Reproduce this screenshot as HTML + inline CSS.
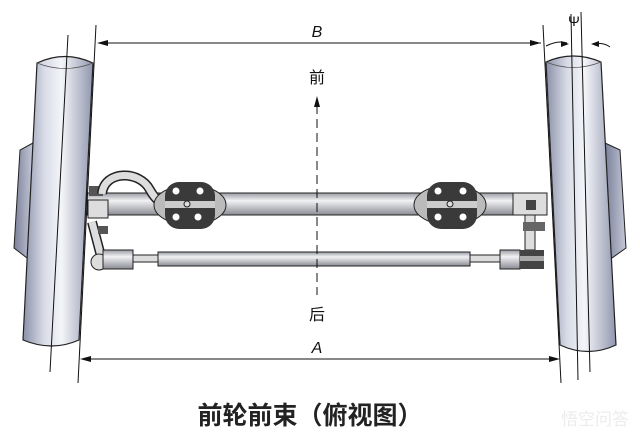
<!DOCTYPE html>
<html><head><meta charset="utf-8"><style>
html,body{margin:0;padding:0;background:#fff;}
svg{display:block;}
text{font-family:"Liberation Sans","Noto Sans CJK SC",sans-serif;fill:#111;}
</style></head><body>
<svg width="640" height="443" viewBox="0 0 640 443" xmlns="http://www.w3.org/2000/svg">
<defs>
<linearGradient id="wh" x1="0" x2="1" y1="0" y2="0">
<stop offset="0" stop-color="#8a90a8"/><stop offset="0.3" stop-color="#d8dbe6"/><stop offset="0.55" stop-color="#f4f5f9"/><stop offset="1" stop-color="#9096ae"/>
</linearGradient>
<linearGradient id="ax" x1="0" x2="0" y1="0" y2="1">
<stop offset="0" stop-color="#9a9ca4"/><stop offset="0.35" stop-color="#f2f2f4"/><stop offset="1" stop-color="#8a8c94"/>
</linearGradient>
<linearGradient id="hub" x1="0" x2="1"><stop offset="0" stop-color="#7a809a"/><stop offset="1" stop-color="#c4c8d6"/></linearGradient>
</defs>
<rect width="640" height="443" fill="#fff"/>
<polygon points="33,143 20,150 14,248 27,258 31,258" fill="url(#hub)" stroke="#222" stroke-width="1"/>
<polygon points="605,143 620,150 626,248 612,258 608,258" fill="url(#hub)" stroke="#222" stroke-width="1"/>
<path d="M37,63 Q65,50 93,63 L79,340 Q52,352 23,340 Z" fill="url(#wh)" stroke="#222" stroke-width="1.2"/>
<path d="M37,63 Q65,74 93,63" fill="none" stroke="#555" stroke-width="0.8"/>
<path d="M546,62 Q573,50 601,62 L616,345 Q588,358 560,345 Z" fill="url(#wh)" stroke="#222" stroke-width="1.2"/>
<path d="M546,62 Q573,73 601,62" fill="none" stroke="#555" stroke-width="0.8"/>
<rect x="87" y="193" width="460" height="22" fill="url(#ax)" stroke="#222"/>
<rect x="89" y="186" width="14" height="10" fill="#555"/>
<rect x="88" y="200" width="20" height="18" fill="#ddd" stroke="#222"/>
<path d="M102,194 C104,170 140,170 150,190 C158,204 165,205 170,200" fill="none" stroke="#222" stroke-width="10"/>
<path d="M102,194 C104,170 140,170 150,190 C158,204 165,205 170,200" fill="none" stroke="#ddd" stroke-width="7"/>
<g>
<ellipse cx="190" cy="205" rx="36" ry="20" fill="#bbb" stroke="#222"/>
<rect x="165" y="182" width="50" height="47" rx="14" fill="#3a3a3a"/>
<rect x="165" y="201" width="50" height="7" fill="#ccc"/>
<circle cx="176" cy="191" r="3.5" fill="#fff"/><circle cx="200" cy="191" r="3.5" fill="#fff"/>
<circle cx="176" cy="217" r="3.5" fill="#fff"/><circle cx="198" cy="217" r="3.5" fill="#fff"/>
<circle cx="187" cy="204" r="3" fill="#ddd" stroke="#222"/>
</g>
<g>
<ellipse cx="450" cy="205" rx="36" ry="20" fill="#bbb" stroke="#222"/>
<rect x="427" y="182" width="50" height="47" rx="14" fill="#3a3a3a"/>
<rect x="427" y="201" width="50" height="7" fill="#ccc"/>
<circle cx="438" cy="191" r="3.5" fill="#fff"/><circle cx="463" cy="191" r="3.5" fill="#fff"/>
<circle cx="438" cy="217" r="3.5" fill="#fff"/><circle cx="463" cy="217" r="3.5" fill="#fff"/>
<circle cx="450" cy="204" r="3" fill="#ddd" stroke="#222"/>
</g>
<rect x="513" y="193" width="34" height="22" fill="#ddd" stroke="#222"/>
<rect x="526" y="200" width="10" height="10" fill="#444"/>
<rect x="525" y="215" width="10" height="35" fill="#ddd" stroke="#222"/>
<rect x="523" y="222" width="22" height="9" fill="#666"/>
<path d="M92,222 L102,260" stroke="#222" stroke-width="10"/>
<path d="M92,222 L102,260" stroke="#ddd" stroke-width="7"/>
<rect x="98" y="226" width="10" height="8" fill="#555"/>
<circle cx="99" cy="262" r="8" fill="#ddd" stroke="#222"/>
<rect x="103" y="250" width="30" height="19" fill="url(#ax)" stroke="#222"/>
<rect x="133" y="255" width="25" height="7" fill="#ddd" stroke="#222"/>
<rect x="158" y="252" width="312" height="14" fill="url(#ax)" stroke="#222"/>
<rect x="470" y="255" width="30" height="7" fill="#ddd" stroke="#222"/>
<rect x="500" y="250" width="20" height="19" fill="url(#ax)" stroke="#222"/>
<rect x="520" y="250" width="24" height="19" fill="#444"/>
<rect x="520" y="256" width="24" height="5" fill="#aaa"/>
<g stroke="#111" stroke-width="1" fill="none">
<line x1="96" y1="25" x2="78" y2="383"/>
<line x1="68" y1="35" x2="50" y2="372"/>
<line x1="543" y1="25" x2="561" y2="383"/>
<line x1="571" y1="14" x2="578" y2="380"/>
<line x1="581" y1="12" x2="590" y2="372"/>
<line x1="100" y1="43" x2="541" y2="43"/>
<line x1="83" y1="359" x2="558" y2="359"/>
<path d="M546,46 Q558,40 567,43"/>
<path d="M593,44 Q603,42 610,47"/>
<line x1="317" y1="105" x2="317" y2="295" stroke-dasharray="9,5"/>
</g>
<g fill="#111">
<polygon points="97,43 108,40 108,46"/>
<polygon points="541,43 530,40 530,46"/>
<polygon points="80,359 91,356 91,362"/>
<polygon points="560,359 549,356 549,362"/>
<polygon points="317,96 314,107 320,107"/>
<polygon points="569,44 561,41 561,47"/>
<polygon points="591,44 599,41 599,47"/>
</g>
<text x="317" y="37" font-size="16" font-style="italic" text-anchor="middle" font-family="Liberation Serif">B</text>
<text x="317" y="353" font-size="16" font-style="italic" text-anchor="middle" font-family="Liberation Serif">A</text>
<text x="574" y="26" font-size="14" text-anchor="middle" font-family="Liberation Serif">Ψ</text>
<text x="317" y="83" font-size="16" text-anchor="middle">前</text>
<text x="317" y="320" font-size="16" text-anchor="middle">后</text>
<text x="310" y="424" font-size="25" font-weight="bold" text-anchor="middle" style="fill:#222">前轮前束（俯视图）</text>
<text x="595" y="425" font-size="17" text-anchor="middle" style="fill:#ececec">悟空问答</text>
</svg>
</body></html>
